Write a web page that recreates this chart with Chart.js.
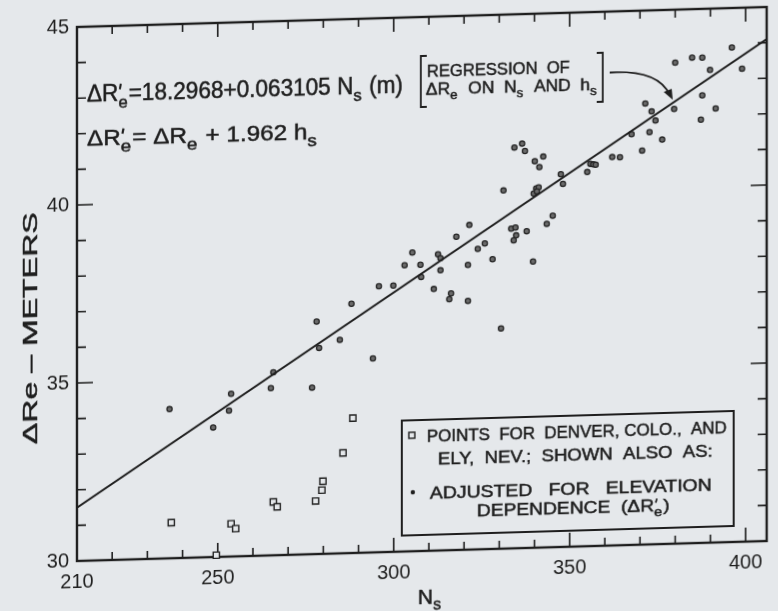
<!DOCTYPE html>
<html>
<head>
<meta charset="utf-8">
<script src="https://cdn.jsdelivr.net/npm/chart.js@4.4.1/dist/chart.umd.min.js"></script>
<style>
  html, body { margin: 0; padding: 0; background: #e5e8eb; }
  #wrap { width: 778px; height: 611px; overflow: hidden; }
  /* the scanned page is slightly skewed: the right side sits ~20px higher */
  #c { display: block; transform: skewY(-1.66deg); transform-origin: 77px 561px; }
</style>
</head>
<body>
<div id="wrap"><canvas id="c" width="778" height="640"></canvas></div>
<script>
// --- Data ---
var xTicks = [210, 250, 300, 350, 400];
var yTicks = [30, 35, 40, 45];

// Denver, Colo. and Ely, Nev. (unadjusted, squares)
var denverNs = [236.8, 249.6, 253.8, 255.1, 265.8, 266.9, 277.8, 279.6, 279.9, 285.6, 288.4];
var denverDR = [31.0, 30.05, 30.92, 30.78, 31.5, 31.36, 31.49, 31.79, 32.04, 32.82, 33.79];

// adjusted for elevation dependence (dots)
var adjustedNs = [236.3, 248.7, 253.2, 253.8, 265.1, 265.8, 276.8, 278.8, 284.7, 278.1,
  288.0, 294.1, 295.8, 299.9, 303.1, 305.3, 307.6, 307.8, 311.4, 312.6,
  313.3, 313.3, 316.3, 315.8, 317.8, 321.1, 321.1, 321.5, 323.9, 325.9,
  328.1, 330.5, 331.2, 333.4, 334.6, 334.8, 334.1, 337.8, 339.6, 339.8,
  340.5, 341.2, 340.7, 343.5, 345.2, 348.1, 334.3, 336.5, 337.3, 340.1,
  342.5, 341.4, 347.5, 355.0, 355.9, 356.7, 357.4, 362.1, 364.3, 367.6,
  370.6, 372.7, 371.5, 373.3, 374.4, 376.3, 379.7, 380.0, 384.8, 387.7,
  389.9, 387.7, 387.3, 391.5, 396.1, 399.0];
var adjustedDR = [34.19, 33.64, 34.10, 34.57, 34.70, 35.14, 34.68, 35.79, 36.00, 36.53,
  37.00, 35.45, 37.47, 37.48, 38.04, 38.39, 38.04, 37.70, 37.35, 38.32,
  38.21, 37.87, 37.21, 37.05, 38.80, 38.00, 36.99, 39.12, 38.44, 38.59,
  38.14, 36.19, 40.06, 38.98, 39.01, 38.79, 38.65, 38.90, 38.04, 39.95,
  40.09, 40.12, 40.01, 39.09, 39.31, 40.20, 41.26, 41.36, 41.15, 40.86,
  40.98, 40.69, 40.47, 40.51, 40.74, 40.72, 40.71, 40.91, 40.90, 41.54,
  41.07, 41.58, 42.39, 42.16, 41.90, 41.36, 42.21, 43.51, 43.64, 43.63,
  43.28, 42.57, 41.89, 42.19, 43.89, 43.29];

// regression line end points
var lineNs = [210, 406];
var lineDR = [31.5, 44.1];

var INK = '#1e1e1e';
var PAPER = '#e5e8eb';
var TEXT_FONT = "'Liberation Sans', Arial, sans-serif";
var NUM_FONT = "'Liberation Sans Narrow', 'Liberation Sans', Arial, sans-serif";

function pairs(xs, ys) {
  return xs.map(function (x, i) { return { x: x, y: ys[i] }; });
}

// --- rich text with sub/superscripts, stretched to a target width ---
function partWidth(ctx, p, size) {
  if (typeof p === 'string') {
    ctx.font = size + 'px ' + TEXT_FONT;
    return ctx.measureText(p).width;
  }
  ctx.font = Math.round(size * 0.75) + 'px ' + TEXT_FONT;
  var a = p.sub ? ctx.measureText(p.sub).width : 0;
  return Math.max(a, p.prime ? 6 : 0) + 1;
}

function drawRich(ctx, parts, x, y, size, width) {
  var total = 0;
  parts.forEach(function (p) { total += partWidth(ctx, p, size); });
  ctx.save();
  ctx.translate(x, y);
  if (width) ctx.scale(width / total, 1);
  ctx.textAlign = 'left';
  ctx.textBaseline = 'alphabetic';
  ctx.fillStyle = INK;
  ctx.strokeStyle = INK;
  ctx.lineWidth = 0.5;
  var cx = 0;
  parts.forEach(function (p) {
    var w = partWidth(ctx, p, size);
    if (typeof p === 'string') {
      ctx.fillText(p, cx, 0);
      ctx.strokeText(p, cx, 0);
    } else {
      if (p.sub) {
        ctx.fillText(p.sub, cx, size * 0.3);
        ctx.strokeText(p.sub, cx, size * 0.3);
      }
      if (p.prime) {
        // short slanted stroke at cap height
        ctx.save();
        ctx.lineWidth = size * 0.09;
        ctx.beginPath();
        ctx.moveTo(cx + 2.5, -size * 0.74);
        ctx.lineTo(cx + 1.5, -size * 0.5);
        ctx.stroke();
        ctx.restore();
      }
    }
    cx += w;
  });
  ctx.restore();
}

// --- frame with inward tick marks on all four sides ---
var frameTicks = {
  id: 'frameTicks',
  beforeDatasetsDraw: function (chart) {
    var ctx = chart.ctx, a = chart.chartArea;
    var xs = chart.scales.x, ys = chart.scales.y;
    ctx.save();
    ctx.strokeStyle = INK;
    ctx.lineWidth = 2.4;
    ctx.strokeRect(a.left, a.top, a.right - a.left, a.bottom - a.top);
    ctx.lineWidth = 1.6;
    ctx.beginPath();
    for (var v = 220; v < xs.max; v += 10) {
      var px = xs.getPixelForValue(v);
      var len = v % 50 === 0 ? 14 : 8;
      ctx.moveTo(px, a.bottom); ctx.lineTo(px, a.bottom - len);
      ctx.moveTo(px, a.top); ctx.lineTo(px, a.top + len);
    }
    for (var w = 31; w < ys.max; w += 1) {
      var py = ys.getPixelForValue(w);
      var l2 = w % 5 === 0 ? 16 : 9;
      ctx.moveTo(a.left, py); ctx.lineTo(a.left + l2, py);
      ctx.moveTo(a.right, py); ctx.lineTo(a.right - l2, py);
    }
    ctx.stroke();
    ctx.restore();
  }
};

// --- annotations, legend box and axis titles ---
var notes = {
  id: 'notes',
  afterDraw: function (chart) {
    var ctx = chart.ctx;
    ctx.save();

    drawRich(ctx, ['\u0394R', { prime: true, sub: 'e' }, '=18.2968+0.063105 N', { sub: 's' }, ' (m)'], 87, 102, 23, 316);
    drawRich(ctx, ['\u0394R', { prime: true, sub: 'e' }, '= \u0394R', { sub: 'e' }, ' + 1.962 h', { sub: 's' }], 87, 146, 22, 231);

    // bracketed note
    drawRich(ctx, ['REGRESSION  OF'], 427, 87, 17, 143);
    drawRich(ctx, ['\u0394R', { sub: 'e' }, '  ON  N', { sub: 's' }, '  AND  h', { sub: 's' }], 426, 105, 17, 172);
    ctx.strokeStyle = INK;
    ctx.lineWidth = 1.8;
    ctx.beginPath();
    ctx.moveTo(427, 66); ctx.lineTo(421, 66); ctx.lineTo(421, 117); ctx.lineTo(427, 117);
    ctx.moveTo(597, 68); ctx.lineTo(603, 68); ctx.lineTo(603, 117); ctx.lineTo(597, 117);
    ctx.stroke();

    // curved arrow to the regression line
    ctx.beginPath();
    ctx.moveTo(610, 88);
    ctx.quadraticCurveTo(658, 86, 670, 112);
    ctx.stroke();
    ctx.fillStyle = INK;
    ctx.beginPath();
    ctx.moveTo(673, 117);
    ctx.lineTo(664, 109);
    ctx.lineTo(672, 106);
    ctx.closePath();
    ctx.fill();

    // legend box
    ctx.lineWidth = 2;
    ctx.strokeRect(402, 430, 332, 115);
    ctx.lineWidth = 1.4;
    ctx.strokeRect(409, 442, 6, 6);
    drawRich(ctx, ['POINTS  FOR  DENVER, COLO.,  AND'], 427, 452, 17, 300);
    drawRich(ctx, ['ELY,  NEV.;  SHOWN  ALSO  AS:'], 438, 475, 17, 275);
    ctx.beginPath();
    ctx.arc(413, 502, 2.2, 0, Math.PI * 2);
    ctx.fill();
    drawRich(ctx, ['ADJUSTED   FOR   ELEVATION'], 430, 509, 17, 282);
    drawRich(ctx, ['DEPENDENCE  (\u0394R', { prime: true, sub: 'e' }, ')'], 477, 528, 17, 193);

    // axis titles
    ctx.save();
    ctx.translate(37, 327);
    ctx.rotate(-Math.PI / 2);
    ctx.font = '21px ' + TEXT_FONT;
    var t = '\u0394Re \u2013 METERS';
    var tw = ctx.measureText(t).width;
    ctx.scale(232 / tw, 1);
    ctx.textAlign = 'center';
    ctx.textBaseline = 'alphabetic';
    ctx.fillStyle = INK;
    ctx.strokeStyle = INK;
    ctx.lineWidth = 0.5;
    ctx.fillText(t, 0, 0);
    ctx.strokeText(t, 0, 0);
    ctx.restore();

    drawRich(ctx, ['N', { sub: 's' }], 418, 614, 21);
    ctx.restore();
  }
};

var chart = new Chart(document.getElementById('c'), {
  data: {
    datasets: [
      {
        type: 'line',
        data: pairs(lineNs, lineDR),
        borderColor: INK,
        borderWidth: 2,
        pointRadius: 0,
        fill: false
      },
      {
        type: 'scatter',
        data: pairs(adjustedNs, adjustedDR),
        pointStyle: 'circle',
        pointRadius: 2.6,
        borderWidth: 1.3,
        borderColor: '#262626',
        backgroundColor: '#6a6a6a',
        clip: false
      },
      {
        type: 'scatter',
        data: pairs(denverNs, denverDR),
        pointStyle: 'rect',
        pointRadius: 4.4,
        borderWidth: 1.4,
        borderColor: '#222',
        backgroundColor: PAPER,
        clip: false
      }
    ]
  },
  options: {
    responsive: false,
    devicePixelRatio: 1,
    animation: false,
    layout: { padding: { left: 0, top: 27, right: 11, bottom: 0 } },
    plugins: { legend: { display: false }, tooltip: { enabled: false } },
    scales: {
      x: {
        type: 'linear',
        min: 210,
        max: 406,
        grid: { display: false, drawTicks: false },
        border: { display: false },
        afterBuildTicks: function (s) { s.ticks = xTicks.map(function (v) { return { value: v }; }); },
        afterFit: function (s) { s.height = 79; },
        ticks: {
          autoSkip: false,
          maxRotation: 0,
          padding: 9,
          color: INK,
          font: { family: NUM_FONT, size: 20 }
        }
      },
      y: {
        type: 'linear',
        min: 30,
        max: 45,
        grid: { display: false, drawTicks: false },
        border: { display: false },
        afterBuildTicks: function (s) { s.ticks = yTicks.map(function (v) { return { value: v }; }); },
        afterFit: function (s) { s.width = 77; },
        ticks: {
          autoSkip: false,
          padding: 8,
          color: INK,
          font: { family: NUM_FONT, size: 20 }
        }
      }
    }
  },
  plugins: [frameTicks, notes]
});
</script>
</body>
</html>
